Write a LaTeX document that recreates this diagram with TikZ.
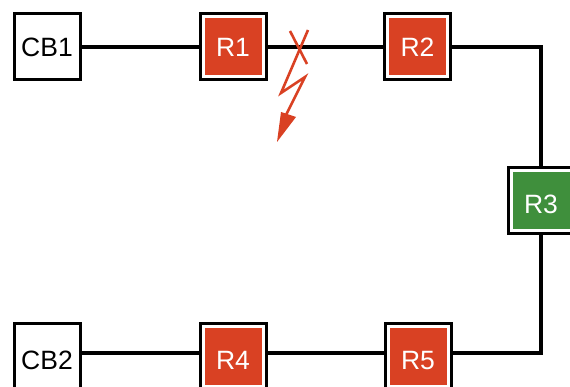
\documentclass[tikz,border=0pt]{standalone}
\usepackage{fontspec}
\setmainfont{Liberation Sans}
\usetikzlibrary{calc}
\definecolor{alarmred}{HTML}{D94123}
\definecolor{okgreen}{HTML}{3F8F3C}
\tikzset{
  x=1pt,y=1pt,
  plainbox/.style={draw=black,line width=3pt,fill=white,minimum size=66pt,inner sep=0pt,font=\fontsize{26.5}{26.5}\selectfont,text=black},
  routerbox/.style={plainbox,text=white,path picture={
    \fill[#1] ($(path picture bounding box.south west)+(4.5,4.5)$) rectangle ($(path picture bounding box.north east)+(-4.5,-4.5)$);}},
  link/.style={draw=black,line width=3.2pt},
  fault/.style={draw=alarmred,line width=2.6pt},
}
\newcommand{\lowered}[1]{\raisebox{-3.5pt}[\height][0pt]{#1}}
\begin{document}
\begin{tikzpicture}
\clip (0,0) rectangle (570,387);
\path[use as bounding box] (0,0) rectangle (570,387);
\coordinate (bottomline) at (0,34);
\node[plainbox] (cb1) at (47,340) {CB1};
\node[routerbox=alarmred] (r1) at (233,340) {R1};
\node[routerbox=alarmred] (r2) at (417.5,340) {R2};
\node[routerbox=okgreen] (r3) at (541,186.5) {\lowered{R3}};
\node[plainbox] (cb2) at (47,30) {\lowered{CB2}};
\node[routerbox=alarmred] (r4) at (233,30) {\lowered{R4}};
\node[routerbox=alarmred] (r5) at (418,30) {\lowered{R5}};
\draw[link] (cb1) -- (r1);
\draw[link] (r1) -- (r2);
\draw[link] (r2) -| (r3);
\draw[link] (r3) |- (r5.east |- bottomline);
\draw[link] (r5.west |- bottomline) -- (r4.east |- bottomline);
\draw[link] (r4.west |- bottomline) -- (cb2.east |- bottomline);
\draw[fault] (290,356) -- (307,323);
\draw[fault,line join=miter] (308,357) -- (281,294) -- (305,310) -- (285,270);
\fill[alarmred] (277,245) -- (281,275) -- (296,270) -- cycle;
\end{tikzpicture}
\end{document}
